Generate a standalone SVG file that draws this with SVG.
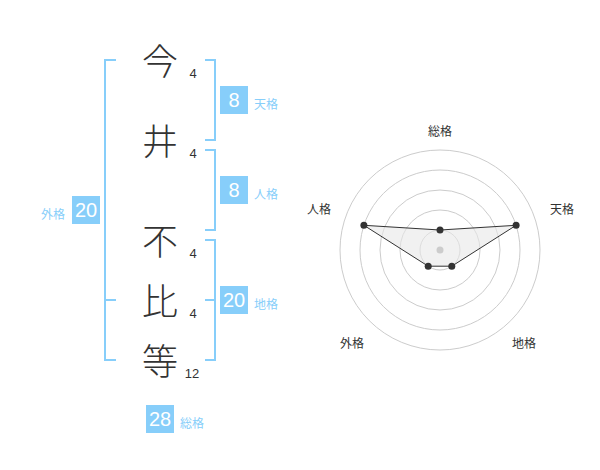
<svg xmlns="http://www.w3.org/2000/svg" width="600" height="470" viewBox="0 0 600 470">
<style>
.kanji{font-family:"Noto Sans CJK JP","Noto Sans CJK SC",sans-serif;font-size:36px;font-weight:300;fill:#333;text-anchor:middle;dominant-baseline:central}
.stroke{font-family:"Liberation Sans",Arial,sans-serif;font-size:13px;fill:#333;text-anchor:middle;dominant-baseline:central}
.br{fill:none;stroke:#87cefa;stroke-width:2}
.box{fill:#87cefa}
.boxt{font-family:"Liberation Sans",Arial,sans-serif;font-size:20px;fill:#fff;text-anchor:middle;dominant-baseline:central}
.lbl{font-family:"Noto Sans CJK JP","Noto Sans CJK SC",sans-serif;font-size:12px;fill:#87cefa;dominant-baseline:central}
.ring{fill:none;stroke:#cccccc;stroke-width:1}
.rl{font-family:"Noto Sans CJK JP","Noto Sans CJK SC",sans-serif;font-size:12px;fill:#333;text-anchor:middle;dominant-baseline:central}
.pt{fill:#333}
</style>
<g id="name">
<g id="c1"><text class="kanji" x="160" y="59">今</text><text class="stroke" x="193" y="73">4</text></g>
<g id="c2"><text class="kanji" x="160" y="139">井</text><text class="stroke" x="193" y="153">4</text></g>
<g id="c3"><text class="kanji" x="160" y="239">不</text><text class="stroke" x="193" y="253">4</text></g>
<g id="c4"><text class="kanji" x="160" y="299">比</text><text class="stroke" x="193" y="313">4</text></g>
<g id="c5"><text class="kanji" x="160" y="359">等</text><text class="stroke" x="192" y="373">12</text></g>
</g>
<g id="connectors">
<path class="br" d="M116,60 H105 V360 H116 M105,300 H116"/>
<path class="br" d="M205,60 H215 V140 H205"/>
<path class="br" d="M205,150 H215 V230 H205"/>
<path class="br" d="M205,240 H215 V360 H205 M205,300 H215"/>
</g>
<g id="tenkaku"><rect class="box" x="220" y="86" width="28" height="28"/><text class="boxt" x="234" y="100">8</text><text class="lbl" x="254" y="103">天格</text></g>
<g id="jinkaku"><rect class="box" x="220" y="176" width="28" height="28"/><text class="boxt" x="234" y="190">8</text><text class="lbl" x="254" y="193">人格</text></g>
<g id="chikaku"><rect class="box" x="220" y="286" width="28" height="28"/><text class="boxt" x="234" y="300">20</text><text class="lbl" x="254" y="303">地格</text></g>
<g id="gaikaku"><rect class="box" x="72" y="196" width="28" height="28"/><text class="boxt" x="86" y="210">20</text><text class="lbl" x="41" y="213">外格</text></g>
<g id="soukaku"><rect class="box" x="146" y="405" width="28" height="28"/><text class="boxt" x="160" y="419">28</text><text class="lbl" x="180" y="422">総格</text></g>
<g id="radar">
<circle class="ring" cx="440" cy="250" r="20"/>
<circle class="ring" cx="440" cy="250" r="40"/>
<circle class="ring" cx="440" cy="250" r="60"/>
<circle class="ring" cx="440" cy="250" r="80"/>
<circle class="ring" cx="440" cy="250" r="100"/>
<polygon points="440,230 516.1,225.3 451.8,266.2 428.2,266.2 363.9,225.3" fill="#e8e8e8" fill-opacity="0.6" stroke="#333" stroke-width="1"/>
<circle cx="440" cy="250" r="3.5" fill="#cccccc"/>
<circle class="pt" cx="440" cy="230" r="3.5"/>
<circle class="pt" cx="516.1" cy="225.3" r="3.5"/>
<circle class="pt" cx="451.8" cy="266.2" r="3.5"/>
<circle class="pt" cx="428.2" cy="266.2" r="3.5"/>
<circle class="pt" cx="363.9" cy="225.3" r="3.5"/>
<text class="rl" x="440" y="130">総格</text>
<text class="rl" x="562" y="208">天格</text>
<text class="rl" x="319" y="208">人格</text>
<text class="rl" x="352" y="342">外格</text>
<text class="rl" x="524" y="342">地格</text>
</g>
</svg>
